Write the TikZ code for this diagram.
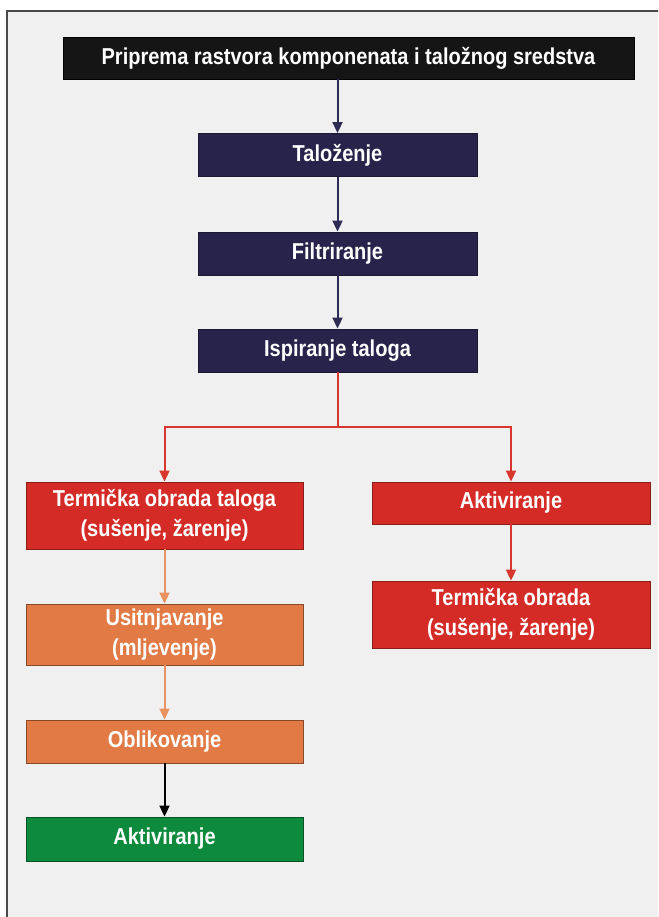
\documentclass[tikz,border=0pt]{standalone}
\usepackage{fontspec}
\setmainfont{Liberation Sans}
\newfontfamily\boxfont{Liberation Sans}[FakeStretch=0.87]
\usetikzlibrary{arrows.meta}

\definecolor{pagebg}{HTML}{F0F0F0}
\definecolor{framecol}{HTML}{4A4A4A}
\definecolor{topblack}{HTML}{151515}
\definecolor{navy}{HTML}{27234A}
\definecolor{navyline}{HTML}{2E2B55}
\definecolor{stepred}{HTML}{D52B27}
\definecolor{redline}{HTML}{D9372E}
\definecolor{steporange}{HTML}{E27A45}
\definecolor{orangeline}{HTML}{E8925F}
\definecolor{stepgreen}{HTML}{0E8A3C}

\tikzset{
  x=1pt, y=-1pt,
  stepbox/.style={rectangle, inner sep=0pt, align=center, text=white,
    font=\boxfont\bfseries\fontsize{23}{29.5}\selectfont, line width=0.9pt},
  topbox/.style={stepbox, fill=topblack, draw=black, minimum width=571pt, minimum height=42pt},
  navybox/.style={stepbox, fill=navy, draw=navy!70!black, minimum width=279pt, minimum height=43pt},
  redbox/.style={stepbox, fill=stepred, draw=stepred!65!black, minimum width=277pt},
  orangebox/.style={stepbox, fill=steporange, draw=steporange!60!black, minimum width=277pt},
  greenbox/.style={stepbox, fill=stepgreen, draw=stepgreen!60!black, minimum width=277pt, minimum height=44pt},
  flow/.style={line width=2pt, -{Triangle[width=10pt,length=11pt]}},
}

\begin{document}
\begin{tikzpicture}
  \useasboundingbox (0,0) rectangle (658,917);
  \begin{scope}
    \clip (0,0) rectangle (658,917);
    \fill[white] (0,0) rectangle (658,917);
    \draw[framecol, line width=1.5pt, fill=pagebg] (7,11) rectangle (700,960);
  \end{scope}

  % main precipitation line
  \node[topbox] (prep) at (348.5,58) {Priprema rastvora komponenata i taložnog sredstva};
  \node[navybox] (tal) at (337.5,155) {Taloženje};
  \node[navybox] (fil) at (337.5,253.5) {Filtriranje};
  \node[navybox] (isp) at (337.5,350.5) {Ispiranje taloga};

  % left branch
  \node[redbox, minimum height=67pt] (term) at (164.5,515.5) {Termička obrada taloga\\(sušenje, žarenje)};
  \node[orangebox, minimum height=61pt] (usit) at (164.5,634.5) {Usitnjavanje\\(mljevenje)};
  \node[orangebox, minimum height=43pt] (obl) at (164.5,741.5) {Oblikovanje};
  \node[greenbox] (akt) at (164.5,839) {Aktiviranje};

  % right branch
  \node[redbox, minimum width=278pt, minimum height=42pt] (aktr) at (511,503) {Aktiviranje};
  \node[redbox, minimum width=278pt, minimum height=67pt] (termr) at (511,614.5) {Termička obrada\\(sušenje, žarenje)};

  \coordinate (split) at (337.5,427);

  % connectors
  \draw[flow, navyline] (prep.south -| tal.north) -- (tal.north);
  \draw[flow, navyline] (tal) -- (fil);
  \draw[flow, navyline] (fil) -- (isp);
  \draw[redline, line width=2pt] (isp.south) -- (split);
  \draw[flow, redline] (split) -| (term.north);
  \draw[flow, redline] (split) -| (aktr.north);
  \draw[flow, redline] (aktr) -- (termr);
  \draw[flow, orangeline] (term) -- (usit);
  \draw[flow, orangeline] (usit) -- (obl);
  \draw[flow, black] (obl) -- (akt);
\end{tikzpicture}
\end{document}
